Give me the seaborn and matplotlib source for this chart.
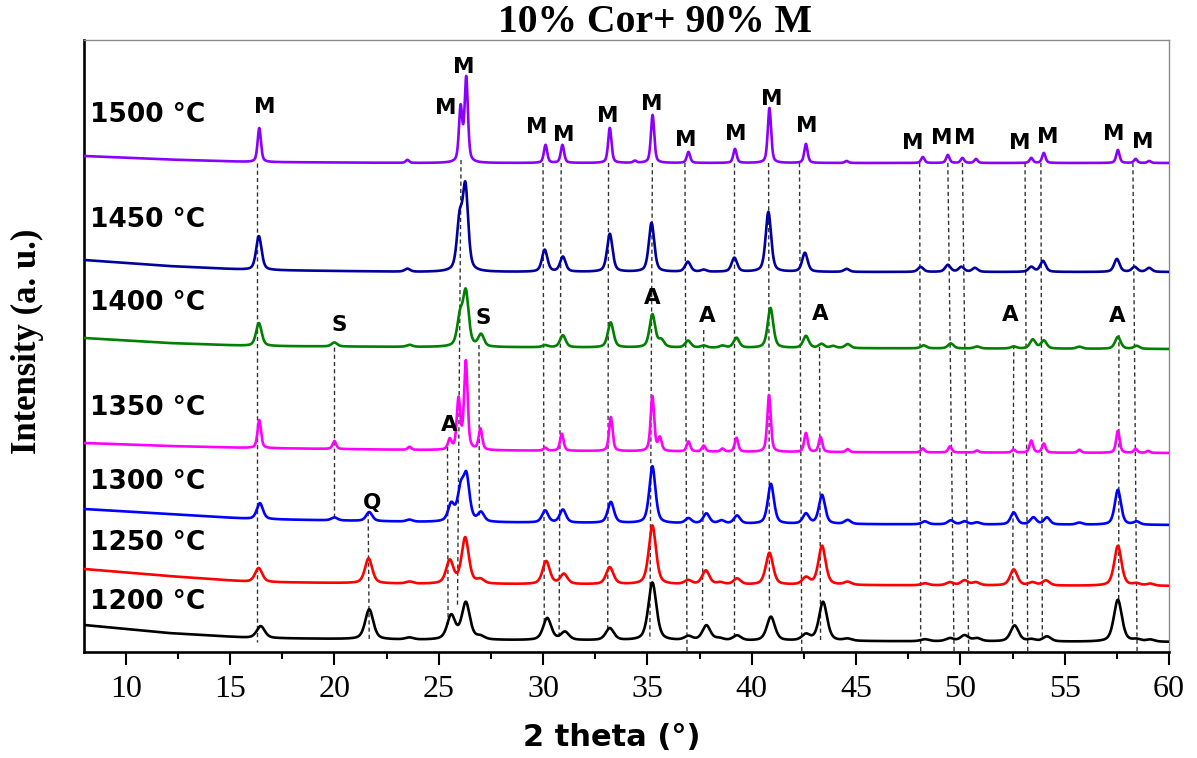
import numpy as np
import pandas as pd
import matplotlib
matplotlib.use("Agg")
import matplotlib.pyplot as plt
from matplotlib.ticker import MultipleLocator
import seaborn as sns

# ---------------------------------------------------------------------------
# XRD patterns of 10% Cor + 90% M fired at different temperatures.
# Each pattern: background knots + list of reflections (2theta, height, width).
# Intensities are in arbitrary units and already include the vertical offset.
# ---------------------------------------------------------------------------
temperatures = ["1500 °C", "1450 °C", "1400 °C", "1350 °C", "1300 °C", "1250 °C", "1200 °C"]
colors = ["#8A00FF", "#00009E", "#008000", "#FF00FF", "#0000FF", "#FF0000", "#000000"]

bg_theta = [8, 12, 16, 24, 40, 60]
bg_1500 = [496, 492.5, 490, 489, 489, 489]
bg_1450 = [392, 386, 382, 380, 380, 380]
bg_1400 = [314, 309, 306, 305, 304, 303]
bg_1350 = [209, 206, 204, 202, 200, 199]
bg_1300 = [143, 138, 133, 130, 128, 127]
bg_1250 = [83, 76, 70, 68, 67, 66]
bg_1200 = [27, 19, 14, 12, 11, 10]

pos_1500 = [16.4, 23.5, 26.05, 26.32, 30.12, 30.93, 33.2, 34.4, 35.25, 36.97, 39.2, 40.85,
            42.6, 44.55, 48.2, 49.4, 50.1, 50.75, 53.4, 54.0, 57.55, 58.4, 59.05]
h_1500 = [34, 3, 54, 84, 18, 18, 35, 2, 48, 11, 14, 55, 19, 2, 6, 8, 5, 4, 5, 10, 13, 4, 2]

pos_1450 = [16.38, 23.5, 26.0, 26.28, 30.08, 30.95, 33.2, 35.2, 36.94, 37.7, 39.17, 40.8,
            42.55, 44.55, 48.1, 49.4, 50.05, 50.7, 53.4, 53.96, 57.5, 58.35, 59.05]
h_1450 = [34, 3, 48, 82, 22, 15, 38, 49, 10, 2, 14, 60, 19, 3, 5, 7, 5, 4, 5, 11, 13, 5, 4]

pos_1400 = [16.38, 20.0, 23.6, 26.02, 26.3, 27.03, 30.1, 30.95, 33.24, 35.24, 35.67, 36.95,
            37.7, 38.6, 39.27, 40.9, 42.6, 43.35, 43.9, 44.6, 48.24, 49.54, 50.8, 52.55,
            53.47, 54.0, 55.7, 57.55, 58.45]
h_1400 = [23, 4, 2, 28, 53, 12, 2, 12, 25, 33, 7, 7, 2, 2, 10, 40, 12, 4, 2, 4, 3, 5, 2, 2,
          9, 8, 2, 12, 3]

pos_1350 = [16.4, 20.0, 23.6, 25.53, 25.95, 26.3, 27.0, 30.1, 30.9, 33.25, 35.24, 35.6,
            36.97, 37.7, 38.6, 39.27, 40.83, 42.6, 43.3, 44.6, 48.2, 49.5, 50.8, 52.55,
            53.4, 54.0, 55.7, 57.55, 58.4, 59.0]
h_1350 = [28, 8, 3, 10, 50, 88, 21, 3, 17, 34, 55, 13, 10, 6, 3, 14, 57, 19, 15, 3, 4, 6, 2, 3,
          12, 9, 3, 22, 4, 2]

pos_1300 = [16.43, 20.0, 21.67, 23.6, 25.6, 26.05, 26.33, 27.03, 30.1, 30.95, 33.25, 35.24,
            36.97, 37.83, 38.55, 39.3, 40.92, 42.6, 43.37, 44.6, 48.3, 49.54, 50.2, 50.8,
            52.56, 53.5, 54.15, 55.7, 57.55, 58.45]
h_1300 = [16, 3, 9, 2, 17, 30, 43, 9, 12, 13, 21, 57, 5, 10, 3, 8, 40, 10, 29, 4, 3, 4, 3, 2,
          12, 7, 7, 2, 35, 3]

pos_1250 = [16.37, 21.64, 23.6, 25.53, 26.27, 27.0, 30.15, 31.0, 33.2, 35.24, 36.95, 37.8,
            38.5, 39.3, 40.85, 42.6, 43.37, 44.6, 48.3, 49.5, 50.2, 50.75, 52.56, 53.45,
            54.1, 57.55, 58.45, 59.1]
h_1250 = [14, 25, 2, 23, 46, 4, 23, 10, 17, 59, 4, 14, 2, 6, 32, 7, 39, 3, 2, 3, 5, 3, 16, 3,
          5, 40, 2, 2]

pos_1200 = [16.47, 21.67, 23.6, 25.6, 26.3, 27.0, 30.2, 31.05, 33.2, 35.24, 36.97, 37.83,
            38.45, 39.3, 40.92, 42.6, 43.42, 44.6, 48.3, 49.5, 50.2, 50.8, 52.6, 53.4,
            54.15, 57.55, 58.45, 59.1]
h_1200 = [12, 30, 2, 24, 37, 3, 22, 8, 12, 58, 4, 15, 2, 5, 24, 6, 39, 2, 2, 3, 6, 3, 16, 2,
          5, 42, 2, 2]

# peak FWHM (degrees) per pattern, sharper at higher temperature
fwhm = [0.19, 0.31, 0.32, 0.20, 0.35, 0.41, 0.46]

# phase labels: M = mullite, S, A, Q
label_text = ["M"] * 18 + ["S", "S", "A", "A", "A", "A", "A", "A", "Q"]
label_x = [16.65, 25.35, 26.2, 29.7, 31.0, 33.08, 35.2, 36.85, 39.25, 40.97, 42.63, 47.7,
           49.09, 50.2, 52.85, 54.2, 57.34, 58.72,
           20.25, 27.13, 35.24, 37.86, 43.29, 52.38, 57.5, 25.5, 21.8]
label_y = [545, 544, 585, 525, 517, 536, 548, 512, 518, 553, 526, 509,
           514, 514, 509, 515, 518, 510,
           327, 334.5, 354.5, 336, 338, 337.5, 336, 227, 149.5]

# reference lines: top/bottom 2theta and top/bottom intensity
ref_x_top = [16.29, 19.98, 21.62, 25.42, 26.07, 26.93, 30.0, 30.87, 33.14, 35.24, 36.8,
             37.7, 39.13, 40.81, 42.29, 43.25, 48.05, 49.4, 50.1, 52.56, 53.1, 53.86,
             57.6, 58.27]
ref_x_bot = [16.29, 19.98, 21.67, 25.45, 25.9, 26.95, 30.06, 30.77, 33.1, 35.12, 36.9,
             37.64, 39.13, 40.85, 42.4, 43.3, 48.1, 49.7, 50.4, 52.5, 53.23, 53.93,
             57.59, 58.47]
ref_y_top = [489, 305, 140, 205, 492, 307, 489, 489, 489, 489, 489,
             322, 489, 489, 489, 305, 489, 489, 489, 307, 489, 489,
             317, 489]
ref_y_bot = [10, 136, 10, 25, 46, 134, 30, 15, 22, 12, 0,
             32, 15, 42, 0, 12, 0, 0, 0, 27, 0, 12,
             52, 1]

temp_label_y = [537, 432, 349, 244, 170, 109, 50]

# ---------------------------------------------------------------------------
two_theta = np.arange(8.0, 60.0001, 0.01)


def pattern(bg, positions, heights, w):
    y = np.interp(two_theta, bg_theta, bg)
    hw = w / 2.0
    for p, h in zip(positions, heights):
        u = ((two_theta - p) / hw) ** 2
        y = y + h * (0.5 / (1.0 + u) + 0.5 * np.exp(-np.log(2) * u))
    return y


series = [
    (bg_1500, pos_1500, h_1500), (bg_1450, pos_1450, h_1450), (bg_1400, pos_1400, h_1400),
    (bg_1350, pos_1350, h_1350), (bg_1300, pos_1300, h_1300), (bg_1250, pos_1250, h_1250),
    (bg_1200, pos_1200, h_1200),
]
frames = []
for name, (bg, pos, hh), w in zip(temperatures, series, fwhm):
    frames.append(pd.DataFrame({"2theta": two_theta,
                                "intensity": pattern(bg, pos, hh, w),
                                "sample": name}))
df = pd.concat(frames, ignore_index=True)

sns.set_theme(style="white")
plt.rcParams["font.family"] = ["DejaVu Sans"]

fig = plt.figure(figsize=(11.97, 7.58), dpi=100)
ax = fig.add_axes([84 / 1197, 106 / 758, 1085 / 1197, 612 / 758])

# dashed reference lines
for xt, xb, yt, yb in zip(ref_x_top, ref_x_bot, ref_y_top, ref_y_bot):
    ax.plot([xt, xb], [yt, yb], color="#333333", lw=1.0, ls=(0, (3, 2.2)), zorder=1)

sns.lineplot(data=df, x="2theta", y="intensity", hue="sample",
             palette=dict(zip(temperatures, colors)), hue_order=temperatures,
             estimator=None, sort=False, legend=False, linewidth=1.9, ax=ax, zorder=3)

for t, yv in zip(temperatures, temp_label_y):
    ax.text(8.29, yv, t, fontsize=19, fontweight="bold", ha="left", va="center",
            family="DejaVu Sans", color="black")

for t, xv, yv in zip(label_text, label_x, label_y):
    ax.text(xv, yv, t, fontsize=15.5, fontweight="bold", ha="center", va="center",
            family="DejaVu Sans", color="black", zorder=5)

ax.set_xlim(8, 60)
ax.set_ylim(0, 612)
ax.set_yticks([])
ax.xaxis.set_major_locator(MultipleLocator(5))
ax.xaxis.set_minor_locator(MultipleLocator(2.5))
ax.tick_params(axis="x", which="major", direction="out", length=9.5, width=1.5,
               color="black", bottom=True, pad=7)
ax.tick_params(axis="x", which="minor", direction="out", length=5, width=1.5,
               color="black", bottom=True)
for lab in ax.get_xticklabels():
    lab.set_fontfamily("Liberation Serif")
    lab.set_fontsize(23)
    lab.set_color("black")

for side in ("left", "bottom"):
    ax.spines[side].set_color("black")
    ax.spines[side].set_linewidth(1.9)
for side in ("top", "right"):
    ax.spines[side].set_color("#8a8a8a")
    ax.spines[side].set_linewidth(1.0)
    ax.spines[side].set_visible(True)

ax.set_xlabel("2 theta (°)", fontsize=22, fontweight="bold", family="DejaVu Sans",
              color="black")
ax.xaxis.set_label_coords((612 - 84) / 1085, -0.116)
ax.xaxis.label.set_va("top")
ax.set_ylabel("Intensity (a. u.)", fontsize=25, fontweight="bold",
              family="Liberation Serif", color="black")
ax.yaxis.set_label_coords(-0.037, 0.507)

ax.set_title("10% Cor+ 90% M", fontsize=28.5, fontweight="bold", family="Liberation Serif",
             x=(655 - 84) / 1085, y=(652 - 32) / 612, pad=0, color="black")

fig.savefig("out.png", dpi=100, facecolor="white")
